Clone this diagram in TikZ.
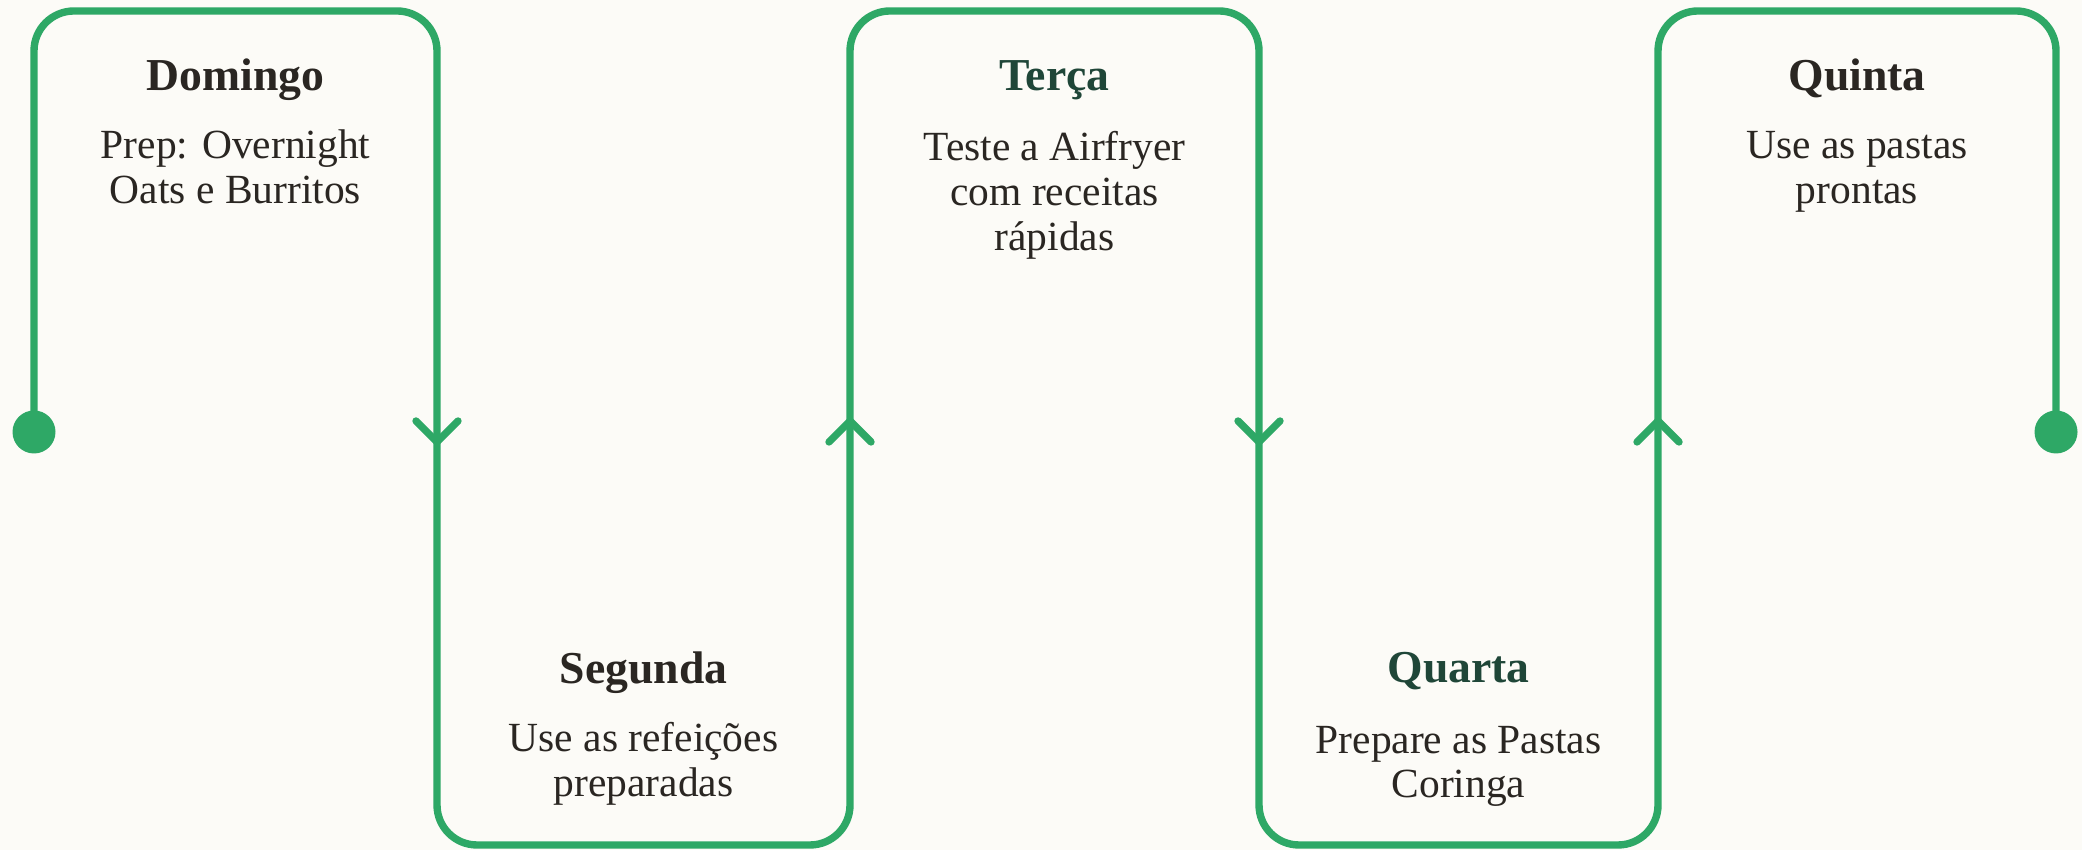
\documentclass[tikz,border=0pt]{standalone}
\usepackage{fontspec}
\setmainfont{Liberation Serif}
\usetikzlibrary{positioning}
\definecolor{verde}{HTML}{2EA866}
\definecolor{tinta}{HTML}{2A2622}
\definecolor{musgo}{HTML}{1F4638}
\definecolor{fundo}{HTML}{FCFBF7}
\begin{document}
\begin{tikzpicture}[line join=round, line cap=round,
	titulo/.style={font=\fontsize{13}{15}\selectfont\bfseries, text=tinta, anchor=base, inner sep=0pt},
	texto/.style={font=\fontsize{11.8}{12.8}\selectfont, text=tinta, align=center, anchor=base, inner sep=0pt},
	linha/.style={draw=verde, line width=2.1pt}]
		\def\xa{0.34} \def\xb{4.37} \def\xc{8.50} \def\xd{12.59} \def\xe{16.58} \def\xf{20.56}
		\def\yt{8.39} \def\yb{0.05} \def\ym{4.18} % topo, base, meio
		\fill[fundo] (0,0) rectangle (20.82,8.5);
		\useasboundingbox (0,0) rectangle (20.82,8.5);
		\draw[linha, rounded corners=0.4cm] (\xa,\ym) -- (\xa,\yt) -- (\xb,\yt) -- (\xb,\yb) -- (\xc,\yb) -- (\xc,\yt)
		-- (\xd,\yt) -- (\xd,\yb) -- (\xe,\yb) -- (\xe,\yt) -- (\xf,\yt) -- (\xf,\ym);
		\fill[verde] (\xa,\ym) circle (0.215);
		\fill[verde] (\xf,\ym) circle (0.215);
		\foreach \x in {\xb,\xd} \draw[linha] (\x-0.21,4.29) -- (\x,4.08) -- (\x+0.21,4.29);
		\foreach \x in {\xc,\xe} \draw[linha] (\x-0.21,4.08) -- (\x,4.29) -- (\x+0.21,4.08);
		% texto: ancora na ultima linha
		\node[titulo] (dom) at (2.355,7.59) {Domingo};
		\node[texto] (domtxt) at (2.355,6.46) {Prep: Overnight\\Oats e Burritos};
		\node[titulo] (seg) at (6.435,1.66) {Segunda};
		\node[texto] (segtxt) at (6.435,0.53) {Use as refeições\\preparadas};
		\node[titulo, text=musgo] (ter) at (10.545,7.59) {Terça};
		\node[texto] (tertxt) at (10.545,5.99) {Teste a Airfryer\\com receitas\\rápidas};
		\node[titulo, text=musgo] (qua) at (14.585,1.67) {Quarta};
		\node[texto] (quatxt) at (14.585,0.52) {Prepare as Pastas\\Coringa};
		\node[titulo] (qui) at (18.57,7.59) {Quinta};
		\node[texto] (quitxt) at (18.57,6.46) {Use as pastas\\prontas};
	\end{tikzpicture}
\end{document}
